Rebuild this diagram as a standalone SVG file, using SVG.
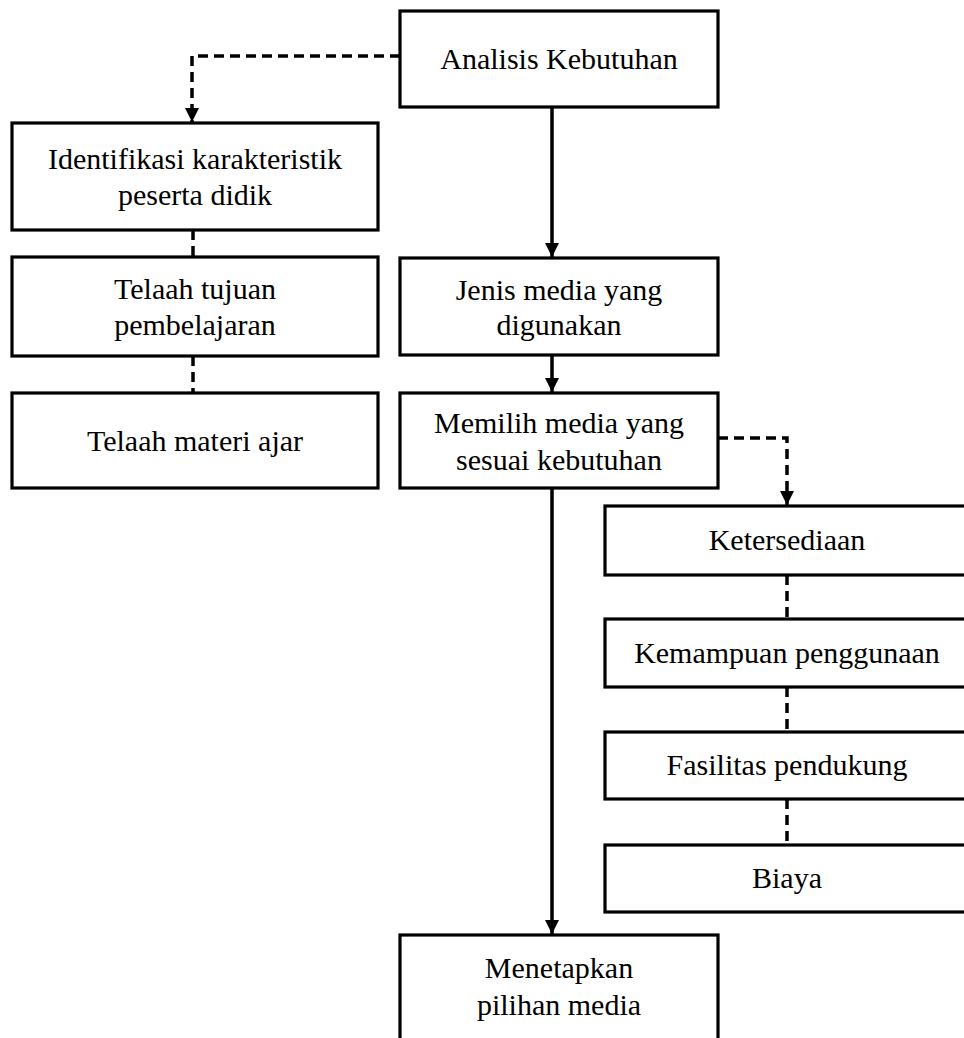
<svg xmlns="http://www.w3.org/2000/svg" width="964" height="1038" viewBox="0 0 964 1038">
<defs>
<style>
.box{fill:#fff;stroke:#000;stroke-width:3.2}
.t{font-family:"Liberation Serif","Times New Roman",serif;font-size:30px;fill:#000;text-anchor:middle}
.c{fill:none;stroke:#000;stroke-width:3.5}
.d{stroke-dasharray:10 6}
</style>
<marker id="arr" viewBox="0 0 14 14" refX="14" refY="7" markerWidth="14" markerHeight="14" markerUnits="userSpaceOnUse" orient="auto">
<path d="M0,0 L14,7 L0,14 z" fill="#000"/>
</marker>
</defs>
<rect width="964" height="1038" fill="#fff"/>
<g id="connectors">
<path class="c d" d="M400 56 H192 V122" marker-end="url(#arr)"/>
<path class="c d" d="M193 230 V257"/>
<path class="c d" d="M193 356 V393"/>
<path class="c" d="M552 107 V257" marker-end="url(#arr)"/>
<path class="c" d="M552 355 V392" marker-end="url(#arr)"/>
<path class="c" d="M552 488 V934" marker-end="url(#arr)"/>
<path class="c d" d="M718 438 H787 V505" marker-end="url(#arr)"/>
<path class="c d" d="M787 575 V619"/>
<path class="c d" d="M787 687 V732"/>
<path class="c d" d="M787 799 V845"/>
</g>
<g id="analisis"><rect class="box" x="400" y="11" width="318" height="96"/><text class="t" x="559" y="69">Analisis Kebutuhan</text></g>
<g id="identifikasi"><rect class="box" x="12" y="123" width="366" height="107"/><text class="t" x="195" y="169">Identifikasi karakteristik</text><text class="t" x="195" y="205">peserta didik</text></g>
<g id="tujuan"><rect class="box" x="12" y="257" width="366" height="99"/><text class="t" x="195" y="299">Telaah tujuan</text><text class="t" x="195" y="335">pembelajaran</text></g>
<g id="materi"><rect class="box" x="12" y="393" width="366" height="95"/><text class="t" x="195" y="451">Telaah materi ajar</text></g>
<g id="jenis"><rect class="box" x="400" y="258" width="318" height="97"/><text class="t" x="559" y="300">Jenis media yang</text><text class="t" x="559" y="335">digunakan</text></g>
<g id="memilih"><rect class="box" x="400" y="393" width="318" height="95"/><text class="t" x="559" y="433">Memilih media yang</text><text class="t" x="559" y="470">sesuai kebutuhan</text></g>
<g id="ketersediaan"><rect class="box" x="605" y="506" width="400" height="69"/><text class="t" x="787" y="550">Ketersediaan</text></g>
<g id="kemampuan"><rect class="box" x="605" y="619" width="400" height="68"/><text class="t" x="787" y="663">Kemampuan penggunaan</text></g>
<g id="fasilitas"><rect class="box" x="605" y="732" width="400" height="67"/><text class="t" x="787" y="775">Fasilitas pendukung</text></g>
<g id="biaya"><rect class="box" x="605" y="845" width="400" height="67"/><text class="t" x="787" y="888">Biaya</text></g>
<g id="menetapkan"><rect class="box" x="400" y="935" width="318" height="120"/><text class="t" x="559" y="978">Menetapkan</text><text class="t" x="559" y="1015">pilihan media</text></g>
</svg>
